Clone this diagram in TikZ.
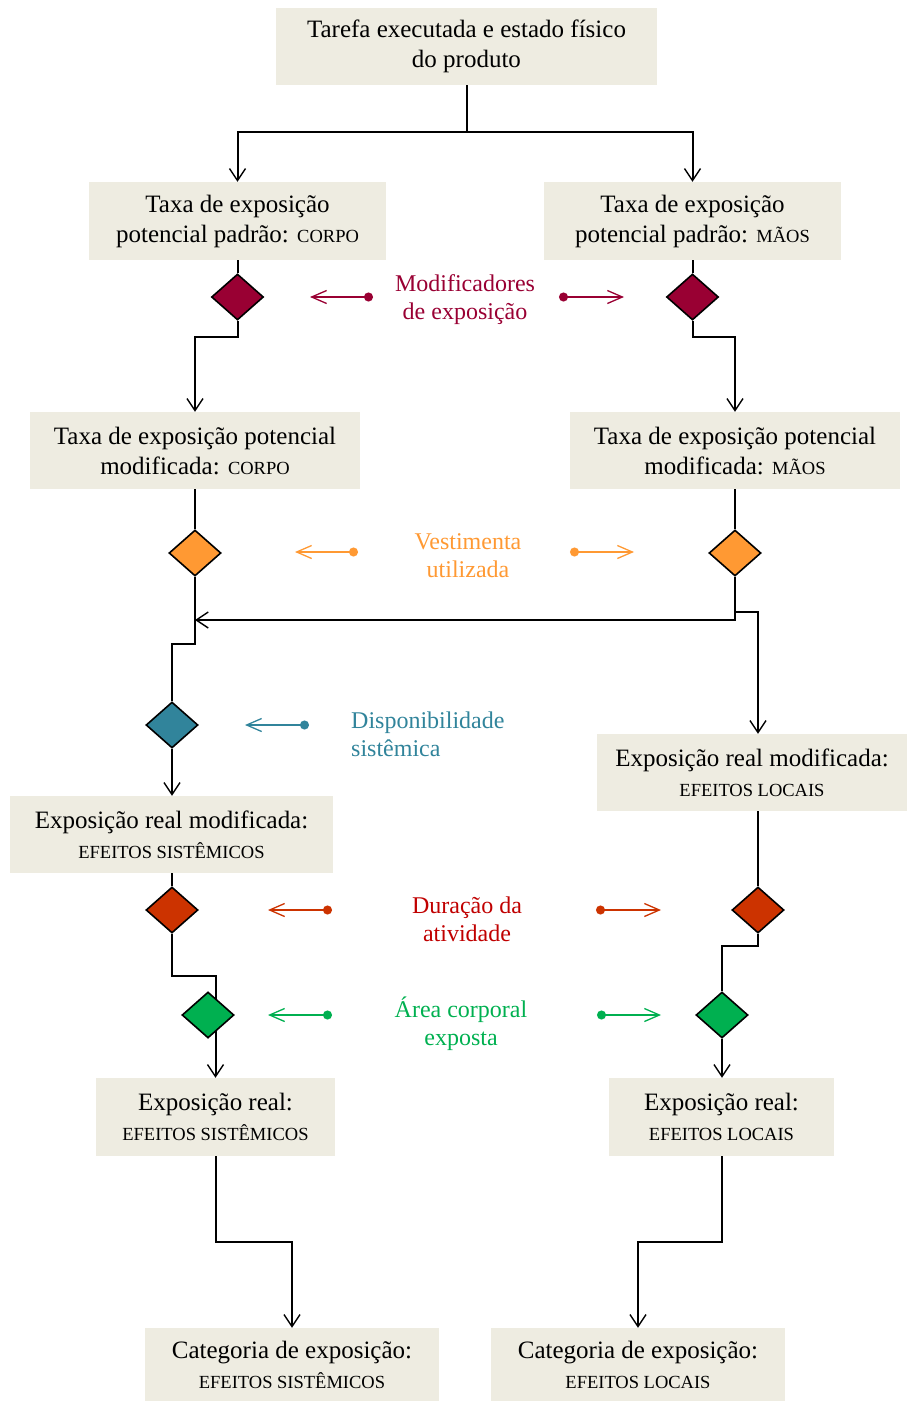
\documentclass[tikz,border=0pt]{standalone}
\usepackage{fontspec}
\setmainfont{Liberation Serif}
\usetikzlibrary{arrows.meta,shapes.geometric}
\definecolor{boxbg}{HTML}{EEECE1}
\definecolor{cmaroon}{HTML}{990033}
\definecolor{corange}{HTML}{FF9933}
\definecolor{cteal}{HTML}{31849B}
\definecolor{cred}{HTML}{CC3300}
\definecolor{credtxt}{HTML}{C00000}
\definecolor{cgreen}{HTML}{00B050}
\newcommand{\sm}[1]{{\fontsize{18.5}{22}\selectfont #1}}
\pgfdeclarelayer{bg}
\pgfsetlayers{bg,main}
\begin{document}
\begin{tikzpicture}[x=1pt,y=-1pt,
  box/.style={fill=boxbg, inner sep=0pt, align=center, minimum height=77pt, font=\fontsize{25}{30}\selectfont},
  dia/.style={diamond, draw=black, line width=1.6pt, minimum width=52pt, minimum height=46pt, inner sep=0pt},
  conn/.style={draw=black, line width=2pt},
  arr/.style={conn, -{Straight Barb[length=12pt,width=16pt,line width=1.4pt]}},
  side/.style={line width=1.4pt, {Circle[length=9pt]}-{Straight Barb[length=15pt,width=13pt,line width=1.3pt]}},
  lab/.style={align=center, font=\fontsize{24}{28}\selectfont, inner sep=0pt}]
\useasboundingbox (0,0) rectangle (907,1401);
% boxes
\node[box, minimum width=381pt] (top) at (466.5,46) {Tarefa executada e estado físico\\do produto};
\node[box, minimum width=297pt, minimum height=78pt] (b2) at (237.5,221) {Taxa de exposição\\potencial padrão: \sm{CORPO}};
\node[box, minimum width=297pt, minimum height=78pt] (b3) at (692.5,221) {Taxa de exposição\\potencial padrão: \sm{MÃOS}};
\node[box, minimum width=330pt] (b4) at (195,450.5) {Taxa de exposição potencial\\modificada: \sm{CORPO}};
\node[box, minimum width=330pt] (b5) at (735,450.5) {Taxa de exposição potencial\\modificada: \sm{MÃOS}};
\node[box, minimum width=310pt] (b6) at (752,772.5) {Exposição real modificada:\\\sm{EFEITOS LOCAIS}};
\node[box, minimum width=323pt] (b7) at (171.5,834.5) {Exposição real modificada:\\\sm{EFEITOS SISTÊMICOS}};
\node[box, minimum width=239pt, minimum height=78pt] (b8) at (215.5,1117) {Exposição real:\\\sm{EFEITOS SISTÊMICOS}};
\node[box, minimum width=225pt, minimum height=78pt] (b9) at (721.5,1117) {Exposição real:\\\sm{EFEITOS LOCAIS}};
\node[box, minimum width=294pt, minimum height=73pt] (b10) at (292,1364.5) {Categoria de exposição:\\\sm{EFEITOS SISTÊMICOS}};
\node[box, minimum width=294pt, minimum height=73pt] (b11) at (638,1364.5) {Categoria de exposição:\\\sm{EFEITOS LOCAIS}};
% diamonds
\node[dia, fill=cmaroon] (d1l) at (237.5,297) {};
\node[dia, fill=cmaroon] (d1r) at (692.5,297) {};
\node[dia, fill=corange] (d2l) at (195,553) {};
\node[dia, fill=corange] (d2r) at (735,553) {};
\node[dia, fill=cteal] (d3) at (172,725) {};
\node[dia, fill=cred] (d4l) at (172,910) {};
\node[dia, fill=cred] (d4r) at (758,910) {};
\node[dia, fill=cgreen] (d5l) at (208,1015) {};
\node[dia, fill=cgreen] (d5r) at (722,1015) {};
% labels
\node[lab, text=cmaroon] (lm) at (465,300) {Modificadores\\de exposição};
\node[lab, text=corange] (lv) at (468,556) {Vestimenta\\utilizada};
\node[lab, text=cteal, align=left, anchor=west] (ld) at (351,734) {Disponibilidade\\sistêmica};
\node[lab, text=credtxt] (lr) at (467,919) {Duração da\\atividade};
\node[lab, text=cgreen] (la) at (461,1024) {Área corporal\\exposta};
% connector coordinates
\coordinate (j1) at (466.5,132);
\coordinate (jv) at (195,620);
\coordinate (jb) at (735,612);
\begin{pgfonlayer}{bg}
\draw[conn] (top.south) -- (j1);
\draw[arr] (j1) -| (b2.north);
\draw[arr] (j1) -| (b3.north);
\draw[conn] (b2.south) -- (d1l.north);
\draw[conn] (b3.south) -- (d1r.north);
\draw[arr] (d1l.south) -- ++(0,16) -| (b4.north);
\draw[arr] (d1r.south) -- ++(0,16) -| (b5.north);
\draw[conn] (b4.south) -- (d2l.north);
\draw[conn] (b5.south) -- (d2r.north);
\draw[conn] (d2r.south) |- (jv);
\draw[arr] (d2r.south |- jv) -- (jv);
\draw[arr] (jb) -| (b6.north -| d4r);
\draw[conn] (d2l.south) -- ++(0,67) -| (d3.north);
\draw[arr] (d3.south) -- (b7.north -| d3);
\draw[conn] (b7.south -| d4l) -- (d4l.north);
\draw[arr] (d4l.south) -- ++(0,42) -| (b8.north);
\draw[conn] (b6.south -| d4r) -- (d4r.north);
\draw[conn] (d4r.south) -- ++(0,12) -| (d5r.north);
\draw[arr] (d5r.south) -- (b9.north -| d5r);
\draw[arr] (b8.south) -- ++(0,86) -| (b10.north);
\draw[arr] (b9.south) -- ++(0,86) -| (b11.north);
\end{pgfonlayer}
% side arrows
\coordinate (m1) at (373,297); \coordinate (m2) at (310,297);
\coordinate (m3) at (559,297); \coordinate (m4) at (624,297);
\draw[side, cmaroon] (m1) -- (m2);
\draw[side, cmaroon] (m3) -- (m4);
\coordinate (v1) at (358,552); \coordinate (v2) at (295,552);
\coordinate (v3) at (570,552); \coordinate (v4) at (634,552);
\draw[side, corange] (v1) -- (v2);
\draw[side, corange] (v3) -- (v4);
\coordinate (t1) at (309,725); \coordinate (t2) at (245,725);
\draw[side, cteal] (t1) -- (t2);
\coordinate (r1) at (332,910); \coordinate (r2) at (268,910);
\coordinate (r3) at (596,910); \coordinate (r4) at (661,910);
\draw[side, cred] (r1) -- (r2);
\draw[side, cred] (r3) -- (r4);
\coordinate (g1) at (332,1015); \coordinate (g2) at (268,1015);
\coordinate (g3) at (597,1015); \coordinate (g4) at (661,1015);
\draw[side, cgreen] (g1) -- (g2);
\draw[side, cgreen] (g3) -- (g4);
\end{tikzpicture}
\end{document}
